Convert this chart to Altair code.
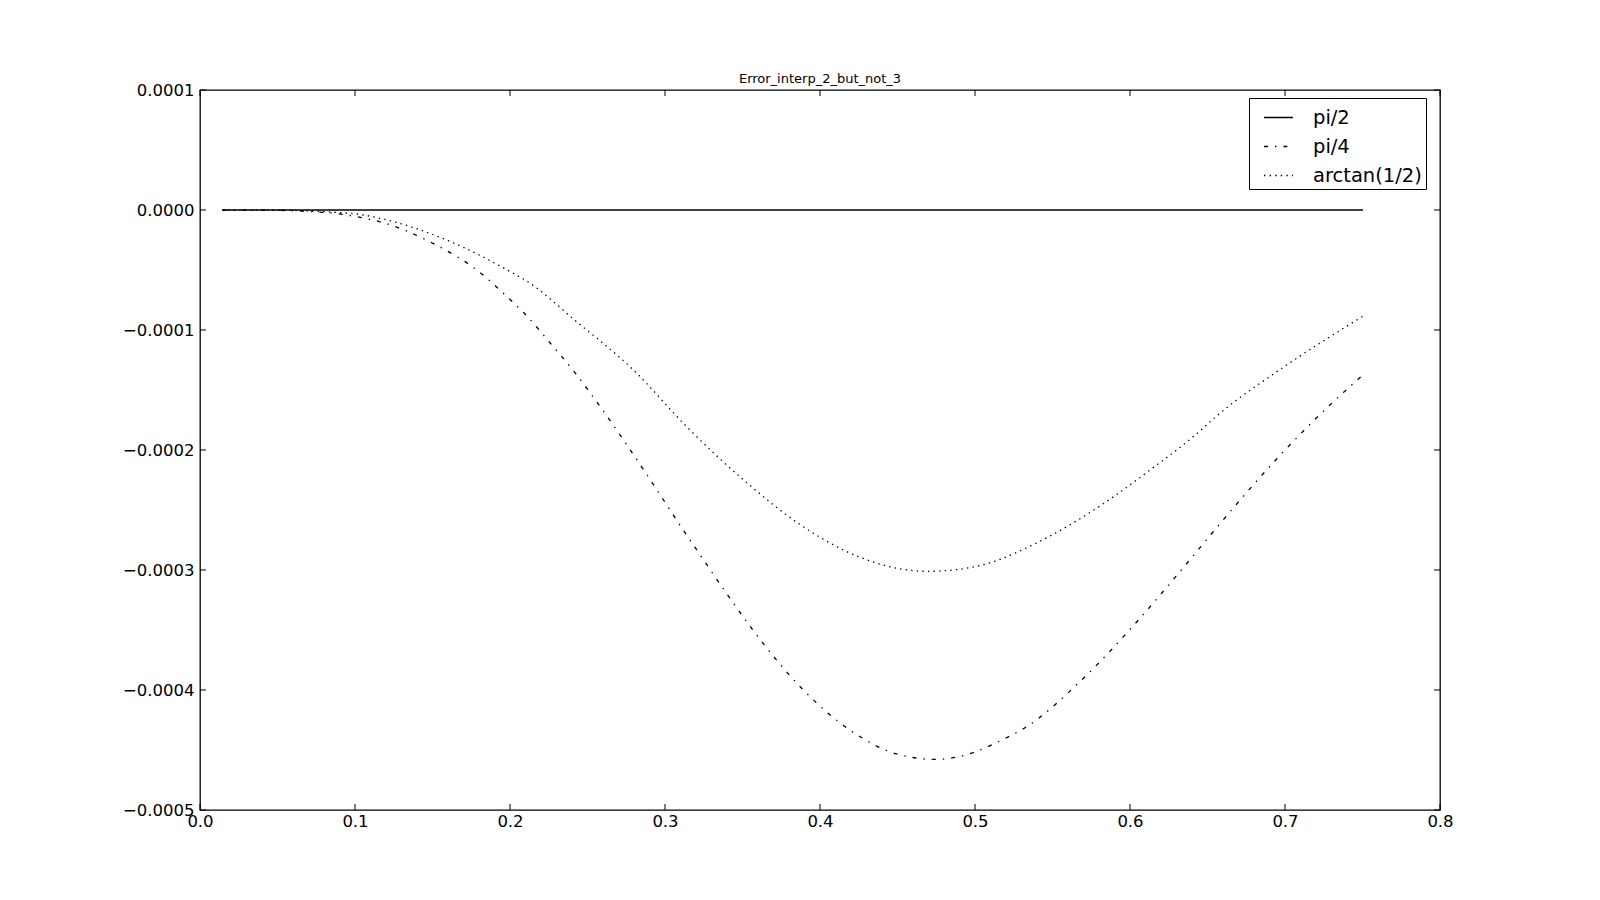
import altair as alt
import pandas as pd

series_names = ["pi/2", "pi/4", "arctan(1/2)"]

pi2_x = [0.0145, 0.2, 0.4, 0.6, 0.7503]
pi2_y = [0.0, 0.0, 0.0, 0.0, 0.0]

pi4_x = [0.0145, 0.05, 0.07, 0.09, 0.101, 0.1161, 0.1495, 0.1818, 0.1957, 0.2097,
         0.2258, 0.2419, 0.2570, 0.2856, 0.3129, 0.3237, 0.3415, 0.3559, 0.3882,
         0.4215, 0.4495, 0.4742, 0.4989, 0.5150, 0.5323, 0.5710, 0.6054, 0.6376,
         0.6537, 0.6946, 0.7301, 0.7503]
pi4_y = [0.0, -0.0000003, -0.0000012, -0.0000033, -0.0000056, -0.0000098, -0.0000273,
         -0.0000533, -0.0000694, -0.0000867, -0.0001106, -0.0001356, -0.0001617,
         -0.0002153, -0.0002689, -0.0002894, -0.0003228, -0.0003486, -0.0003986,
         -0.0004353, -0.0004533, -0.0004578, -0.0004522, -0.0004431, -0.0004314,
         -0.0003889, -0.0003417, -0.0002931, -0.0002681, -0.0002075, -0.0001611,
         -0.0001375]

at_x = [0.0145, 0.05, 0.07, 0.0903, 0.101, 0.1161, 0.1592, 0.2022, 0.2097, 0.2430,
        0.2796, 0.3140, 0.3527, 0.3860, 0.4258, 0.4688, 0.4860, 0.5150, 0.5269,
        0.5699, 0.6129, 0.6441, 0.6559, 0.6989, 0.7503]
at_y = [0.0, -0.0000002, -0.0000007, -0.0000022, -0.0000033, -0.0000069, -0.0000250,
        -0.0000528, -0.0000583, -0.0000931, -0.0001333, -0.0001806, -0.0002272,
        -0.0002611, -0.0002894, -0.0003011, -0.0003000, -0.0002917, -0.0002853,
        -0.0002556, -0.0002167, -0.0001853, -0.0001717, -0.0001311, -0.0000885]

x_ticks = [0.0, 0.1, 0.2, 0.3, 0.4, 0.5, 0.6, 0.7, 0.8]
y_ticks = [-0.0005, -0.0004, -0.0003, -0.0002, -0.0001, 0.0, 0.0001]

rows = []
for name, xs, ys in [(series_names[0], pi2_x, pi2_y),
                     (series_names[1], pi4_x, pi4_y),
                     (series_names[2], at_x, at_y)]:
    for i, (a, b) in enumerate(zip(xs, ys)):
        rows.append({"x": a, "y": b, "series": name, "order": i})
df = pd.DataFrame(rows)

W, H = 1240, 720
FONT = "DejaVu Sans"

xscale = alt.Scale(domain=[0, 0.8], nice=False, zero=False)
yscale = alt.Scale(domain=[-0.0005, 0.0001], nice=False, zero=False)

lines = alt.Chart(df).mark_line(color="black", strokeWidth=1.3, interpolate="monotone").encode(
    x=alt.X("x:Q", scale=xscale,
            axis=alt.Axis(values=x_ticks, format=".1f", title=None, tickSize=0,
                          domain=False, grid=False, labelPadding=3,
                          labelFontSize=16.5, labelFont=FONT, labelColor="black",
                          labelOverlap=False, labelFlush=False)),
    y=alt.Y("y:Q", scale=yscale,
            axis=alt.Axis(values=y_ticks, format=".4f", title=None, tickSize=0,
                          domain=False, grid=False, labelPadding=6,
                          labelFontSize=16.5, labelFont=FONT, labelColor="black",
                          labelOverlap=False, labelFlush=False)),
    strokeDash=alt.StrokeDash(
        "series:N",
        scale=alt.Scale(domain=series_names,
                        range=[[1, 0], [4, 7, 1.4, 7], [1.4, 4.2]]),
        legend=alt.Legend(title=None, orient="none", legendX=1049, legendY=8,
                          symbolType="stroke", symbolSize=841, symbolOffset=10,
                          symbolStrokeWidth=1.3, symbolStrokeColor="black",
                          labelFontSize=19.5, labelFont=FONT, labelColor="black",
                          labelOffset=19, rowPadding=4, padding=4,
                          strokeColor="black", fillColor="white",
                          cornerRadius=0, labelLimit=300),
    ),
    order="order:Q",
)

xt = pd.DataFrame({"v": x_ticks})
yt = pd.DataFrame({"v": y_ticks})

xtick_bottom = alt.Chart(xt).mark_rule(color="black", strokeWidth=1).encode(
    x=alt.X("v:Q", scale=xscale), y=alt.value(H), y2=alt.value(H - 6))
xtick_top = alt.Chart(xt).mark_rule(color="black", strokeWidth=1).encode(
    x=alt.X("v:Q", scale=xscale), y=alt.value(0), y2=alt.value(6))
ytick_left = alt.Chart(yt).mark_rule(color="black", strokeWidth=1).encode(
    y=alt.Y("v:Q", scale=yscale), x=alt.value(0), x2=alt.value(6))
ytick_right = alt.Chart(yt).mark_rule(color="black", strokeWidth=1).encode(
    y=alt.Y("v:Q", scale=yscale), x=alt.value(W), x2=alt.value(W - 6))

chart = alt.layer(lines, xtick_bottom, xtick_top, ytick_left, ytick_right).properties(
    width=W, height=H,
    title=alt.TitleParams("Error_interp_2_but_not_3", fontSize=13, font=FONT,
                          fontWeight="normal", color="black", offset=-4),
    autosize=alt.AutoSizeParams(type="none"),
    padding={"left": 192, "top": 82, "right": 150, "bottom": 70},
).configure(
    background="white"
).configure_view(
    stroke="black", strokeWidth=1.3
)

chart.save("out.html", embed_options={"renderer": "svg", "actions": False})
